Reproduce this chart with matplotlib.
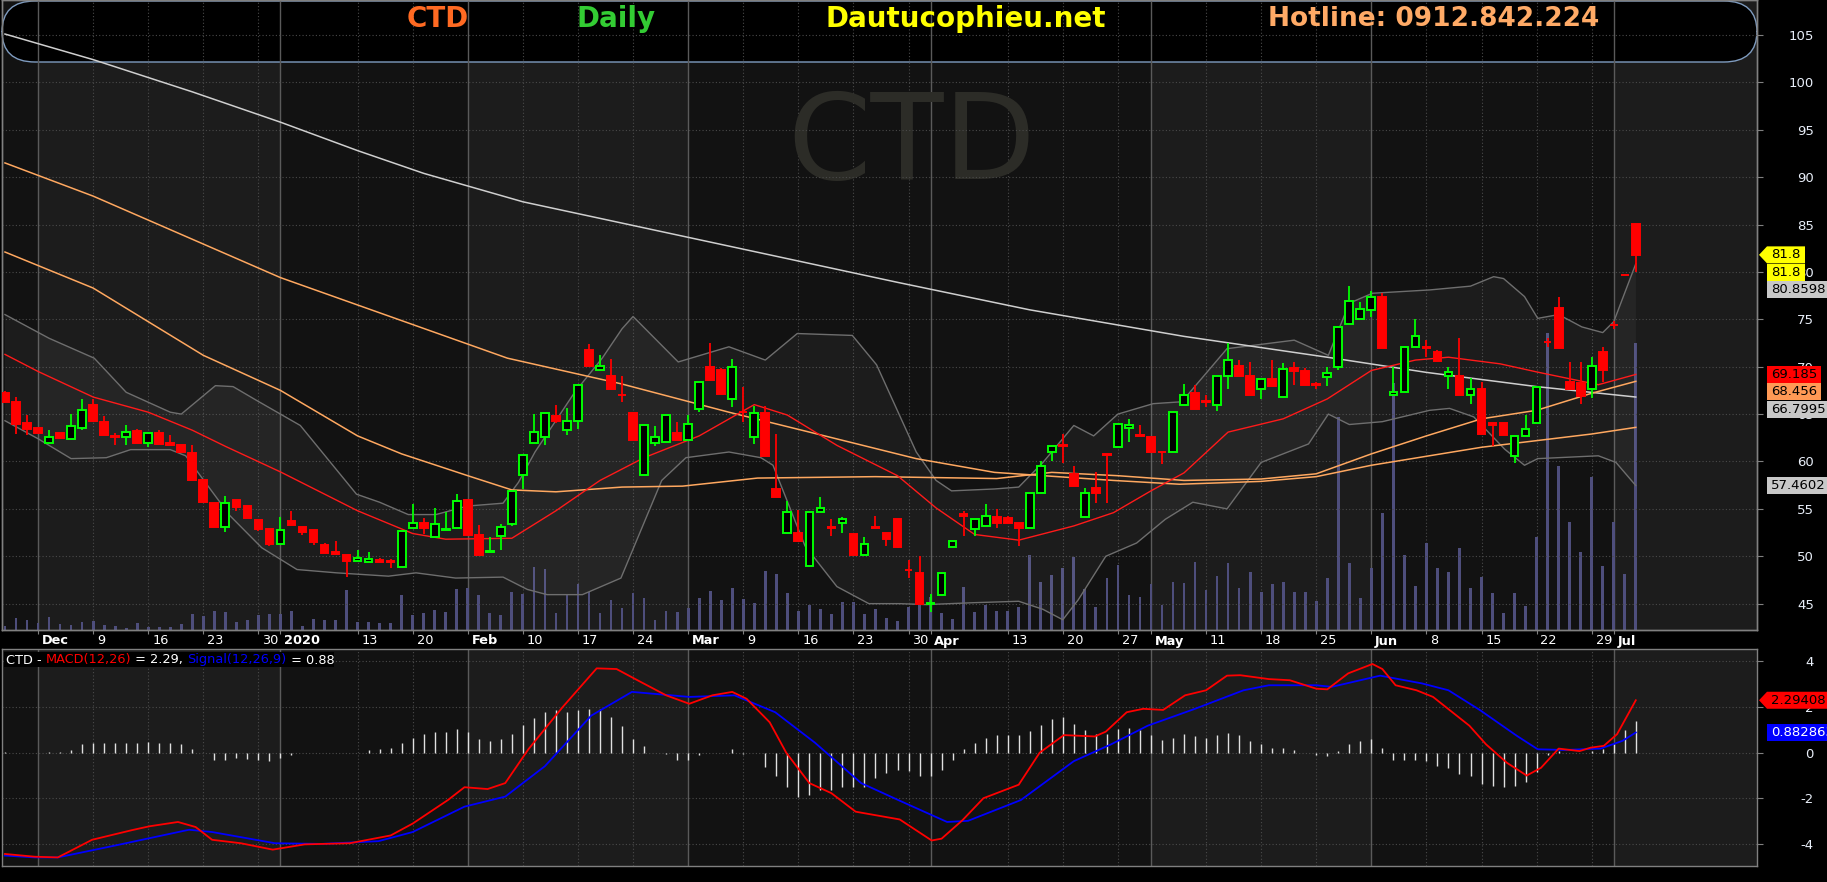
import numpy as np
import pandas as pd
import matplotlib
matplotlib.use("Agg")
import matplotlib.pyplot as plt
from matplotlib.patches import FancyBboxPatch, Polygon, Rectangle
from matplotlib.transforms import blended_transform_factory

# ---------------- data ----------------
holidays = ["2020-01-01", "2020-01-23", "2020-01-24", "2020-01-27", "2020-01-28",
            "2020-01-29", "2020-04-02", "2020-04-30", "2020-05-01"]
dates = pd.bdate_range("2019-11-27", "2020-07-03")
dates = dates[~dates.isin(pd.to_datetime(holidays))]

opens = [67.2, 66.3, 64.1, 63.55, 62.0, 63.0, 62.35, 63.5, 66.0, 64.2,
         62.65, 62.6, 63.2, 62.0, 63.0, 62.0, 61.75, 60.9, 58.0, 55.6,
         53.1, 55.9, 55.3, 53.8, 52.9, 51.3, 53.7, 53.05, 52.8, 51.15,
         50.45, 50.15, 49.5, 49.4, 49.6, 49.45, 48.9, 53.0, 53.55, 52.0,
         52.8, 53.0, 55.9, 52.25, 50.45, 52.1, 53.45, 58.6, 62.0, 62.55,
         64.8, 63.35, 64.25, 71.8, 69.6, 69.0, 67.05, 65.1, 58.55, 62.0,
         62.1, 63.0, 62.3, 65.5, 70.0, 69.6, 66.6, 65.25, 62.55, 65.1,
         57.1, 52.5, 52.5, 48.95, 54.7, 53.05, 53.55, 52.3, 50.1, 53.05,
         52.5, 53.9, 48.55, 48.2, 45.0, 45.9, 51.0, 54.5, 52.9, 53.2,
         54.1, 54.0, 53.55, 52.95, 56.7, 61.0, 61.7, 58.7, 54.1, 57.25,
         60.75, 61.5, 63.5, 62.75, 62.55, 61.05, 61.0, 66.0, 67.2, 66.35,
         66.0, 69.0, 70.05, 69.0, 67.6, 68.65, 66.8, 69.9, 69.55, 68.15,
         68.9, 70.0, 74.5, 75.0, 76.0, 77.4, 67.0, 67.3, 72.1, 72.05,
         71.55, 69.0, 69.0, 67.0, 67.6, 64.05, 64.1, 60.55, 62.7, 64.05,
         72.65, 76.15, 68.4, 68.3, 67.6, 71.55, 74.45, 79.7, 85.1]
highs = [67.4, 66.8, 64.9, 63.55, 63.3, 63.0, 65.0, 66.6, 66.6, 64.8,
         63.0, 63.9, 63.45, 63.0, 63.3, 62.8, 61.75, 61.75, 58.0, 55.6,
         56.4, 55.9, 55.3, 53.8, 52.9, 54.1, 54.75, 53.05, 52.8, 51.4,
         51.6, 50.15, 50.7, 50.4, 49.8, 49.7, 52.7, 55.5, 54.0, 55.1,
         54.7, 56.55, 55.9, 53.3, 52.0, 53.4, 56.85, 60.7, 65.0, 65.15,
         66.0, 65.6, 68.1, 72.4, 71.2, 70.8, 69.0, 65.1, 63.9, 63.7,
         64.9, 64.2, 64.9, 68.4, 72.5, 69.85, 70.85, 67.85, 65.9, 65.9,
         62.9, 55.85, 54.9, 54.7, 56.2, 53.9, 54.1, 52.3, 52.0, 54.25,
         52.5, 53.9, 49.6, 50.0, 46.0, 48.25, 51.6, 54.8, 53.9, 55.5,
         55.0, 54.3, 53.55, 56.7, 60.1, 61.65, 62.9, 59.5, 57.25, 58.85,
         60.75, 64.0, 64.5, 63.8, 62.55, 61.05, 65.2, 68.2, 68.1, 67.0,
         69.0, 72.45, 70.7, 70.5, 68.65, 70.7, 70.4, 70.5, 69.9, 68.4,
         70.0, 74.2, 78.5, 76.8, 78.0, 77.75, 70.0, 72.1, 75.0, 72.8,
         71.75, 70.0, 73.0, 68.8, 68.4, 64.05, 64.1, 62.7, 64.9, 67.85,
         73.0, 77.4, 70.5, 70.5, 71.0, 72.1, 74.8, 79.7, 85.1]
lows = [66.3, 62.9, 62.8, 63.0, 62.0, 62.5, 62.35, 63.3, 64.15, 62.8,
        61.75, 61.75, 62.0, 61.5, 61.85, 61.7, 61.05, 58.0, 55.7, 53.1,
        52.6, 54.8, 54.0, 52.65, 51.1, 51.3, 53.35, 52.2, 51.15, 50.35,
        50.25, 47.8, 49.5, 49.4, 49.4, 48.8, 48.9, 53.0, 52.3, 52.0,
        52.8, 53.0, 52.25, 50.1, 50.45, 50.65, 53.2, 57.1, 62.0, 61.75,
        64.05, 62.8, 63.4, 70.1, 69.6, 67.6, 66.25, 62.3, 58.55, 61.6,
        62.1, 62.25, 62.3, 65.25, 68.55, 67.1, 65.8, 64.15, 61.85, 60.55,
        56.3, 52.5, 51.6, 48.95, 54.7, 52.1, 52.5, 50.1, 50.1, 53.0,
        51.05, 50.9, 47.7, 45.0, 44.1, 45.9, 51.0, 52.1, 52.1, 53.2,
        53.0, 53.55, 51.1, 52.95, 56.7, 60.0, 59.8, 57.4, 54.1, 55.65,
        55.65, 61.5, 62.1, 62.7, 61.0, 59.7, 61.0, 66.0, 65.5, 65.7,
        65.3, 67.6, 69.0, 67.0, 66.55, 68.0, 66.8, 68.1, 68.1, 67.6,
        68.0, 69.7, 74.5, 75.0, 75.2, 72.0, 67.0, 67.3, 72.1, 71.0,
        70.6, 67.6, 67.0, 66.1, 62.85, 61.6, 62.75, 59.85, 62.7, 64.05,
        72.1, 72.0, 67.6, 66.1, 66.7, 68.4, 74.0, 79.65, 80.0]
closes = [66.3, 64.0, 63.4, 63.0, 62.6, 62.5, 63.7, 65.45, 64.3, 62.8,
          62.6, 63.1, 62.0, 63.0, 61.85, 61.7, 61.05, 58.0, 55.7, 53.1,
          55.6, 55.2, 54.0, 52.85, 51.25, 52.8, 53.35, 52.55, 51.5, 50.35,
          50.25, 49.5, 49.8, 49.7, 49.4, 49.4, 52.7, 53.55, 52.95, 53.45,
          52.9, 55.8, 52.25, 50.1, 50.6, 53.1, 56.85, 60.7, 63.1, 65.15,
          64.3, 64.25, 68.1, 70.1, 70.1, 67.6, 67.0, 62.3, 63.8, 62.55,
          64.9, 62.25, 64.0, 68.4, 68.55, 67.1, 70.0, 65.2, 65.1, 60.55,
          56.3, 54.7, 51.6, 54.7, 55.1, 53.0, 53.9, 50.1, 51.3, 53.0,
          51.85, 51.0, 48.5, 45.0, 45.05, 48.25, 51.6, 54.2, 53.9, 54.25,
          53.55, 53.55, 52.95, 56.7, 59.5, 61.65, 61.65, 57.4, 56.7, 56.7,
          60.7, 64.0, 63.8, 62.7, 61.0, 61.0, 65.2, 67.0, 65.5, 66.3,
          69.0, 70.75, 69.0, 67.0, 68.65, 68.0, 69.8, 69.5, 68.1, 68.1,
          69.35, 74.2, 76.9, 76.1, 77.4, 72.0, 67.3, 72.1, 73.25, 72.0,
          70.6, 69.4, 67.0, 67.6, 62.85, 63.8, 62.75, 62.7, 63.4, 67.85,
          72.6, 72.0, 67.6, 66.9, 70.1, 69.6, 74.4, 79.65, 81.8]
volume = [12, 35, 30, 20, 38, 18, 15, 23, 28, 15,
          12, 7, 20, 10, 8, 10, 17, 47, 43, 57,
          53, 23, 30, 45, 49, 49, 57, 12, 32, 30,
          30, 120, 25, 23, 22, 20, 105, 45, 50, 59,
          53, 123, 125, 105, 50, 45, 113, 107, 188, 183,
          50, 105, 137, 115, 50, 90, 65, 110, 97, 30,
          58, 53, 67, 97, 118, 90, 125, 92, 80, 178,
          167, 110, 57, 75, 62, 47, 85, 83, 47, 62,
          37, 27, 68, 75, 100, 52, 33, 130, 55, 75,
          57, 57, 70, 225, 145, 165, 187, 220, 123, 68,
          155, 195, 105, 100, 137, 75, 145, 140, 205, 120,
          163, 200, 125, 173, 113, 137, 145, 113, 113, 88,
          155, 640, 200, 97, 185, 350, 740, 225, 133, 260,
          187, 173, 247, 125, 158, 110, 50, 110, 73, 280,
          890, 493, 325, 233, 460, 193, 323, 167, 860]

# moving averages / bands (trading day 0 = 2 Dec 2019)
ma20_day = [-3, 0, 5, 10, 14, 17, 22, 29, 34, 37, 43, 47, 51, 55, 60, 65, 68, 72.5, 78,
            81.5, 85, 89, 94, 97.6, 101, 104, 108, 113, 117, 121, 125, 128, 132.7, 136, 141.6, 145]
ma20_val = [71.3, 69.5, 66.8, 65.2, 63.3, 61.6, 58.9, 54.8, 52.4, 51.8, 51.9, 54.8, 58.0, 60.4,
            62.7, 66.0, 64.9, 61.7, 58.5, 55.1, 52.3, 51.7, 53.2, 54.6, 56.9, 58.8, 63.1, 64.5,
            66.6, 69.6, 70.7, 71.0, 70.3, 69.45, 68.1, 69.185]
ma50_day = [-3, 5, 15, 22, 29, 33, 39, 43, 47, 53, 58.5, 65.3, 76, 87, 92, 98, 104, 111, 116,
            121, 126, 131, 136, 141, 145]
ma50_val = [82.1, 78.3, 71.2, 67.5, 62.7, 60.8, 58.5, 57.0, 56.8, 57.3, 57.4, 58.25, 58.4, 58.2,
            58.85, 58.5, 58.0, 58.15, 58.7, 60.8, 62.7, 64.5, 65.4, 67.2, 68.456]
ma100_day = [-3, 5, 22, 42.6, 52.9, 62.7, 70.7, 79.7, 86.8, 97.6, 103.6, 111, 116, 121, 126,
             131, 136, 141, 145]
ma100_val = [91.5, 88.0, 79.4, 70.9, 68.2, 65.2, 62.9, 60.3, 58.85, 58.0, 57.6, 57.9, 58.4, 59.6,
             60.55, 61.5, 62.2, 62.9, 63.6]
ma200_day = [-3, 5, 14, 22, 29, 35, 44, 54, 64, 78, 90, 104, 117, 126, 136, 145]
ma200_val = [105.1, 102.4, 99.0, 95.8, 92.8, 90.4, 87.4, 84.9, 82.4, 78.9, 76.0, 73.2, 71.0, 69.4,
             67.9, 66.7995]
bbu_day = [-3, 1, 5.1, 8, 12, 13, 16.1, 17.7, 19.9, 23.8, 28.9, 31, 33.6, 36.1, 39, 42.2, 43.6,
           45.1, 48.7, 51.2, 53, 54, 58.1, 62.7, 66, 68.9, 73.9, 76.1, 79.7, 81.5, 82.9, 86.8, 89,
           91.2, 94, 95.8, 98, 101.2, 103.8, 107.9, 114, 117.1, 119, 121.1, 126.3, 130, 132.1,
           133, 134.9, 136.1, 138, 140.1, 142, 143, 145]
bbu_val = [75.5, 73.0, 70.9, 67.3, 65.2, 65.0, 68.0, 67.9, 66.4, 63.8, 56.55, 55.7, 54.4, 54.4,
           55.3, 55.6, 57.8, 61.0, 67.3, 70.9, 74.0, 75.3, 70.5, 72.1, 70.7, 73.5, 73.3, 70.2, 61.0,
           58.0, 56.9, 57.1, 57.3, 59.9, 63.8, 62.7, 65.0, 66.1, 66.3, 71.9, 72.8, 71.2, 76.7, 77.75,
           78.1, 78.5, 79.5, 79.3, 77.4, 75.1, 75.5, 74.2, 73.6, 74.75, 80.8598]
bbl_day = [-3, 0, 3, 6.2, 8.4, 12, 13.4, 17.4, 20.3, 23.5, 27.1, 31.8, 34.3, 37.9, 42.2, 44.4,
           46.2, 49.4, 51.5, 52.9, 56.6, 58.8, 62.7, 65.6, 66.7, 69.6, 72.5, 75.4, 78.2, 80.6, 84.9,
           89, 91.2, 93, 94.4, 96.9, 99.7, 102.3, 104.8, 107.9, 111, 115.3, 117.1, 119, 122, 126.3,
           128.1, 130.3, 133.1, 134.9, 136.1, 141.6, 143.2, 145]
bbl_val = [64.3, 62.4, 60.3, 60.4, 61.25, 61.25, 60.6, 54.3, 50.9, 48.6, 48.25, 47.9, 48.25, 47.7,
           47.8, 46.5, 45.95, 45.95, 47.0, 47.7, 58.0, 60.4, 61.0, 60.4, 59.6, 51.1, 46.8, 45.0, 45.0,
           44.9, 45.1, 45.25, 44.4, 43.3, 45.4, 50.0, 51.4, 53.9, 55.7, 55.0, 59.9, 61.85, 65.0, 63.9,
           64.2, 65.4, 65.6, 64.7, 61.3, 59.6, 60.3, 60.6, 59.9, 57.4602]

macd_day = [-3, -0.3, 1.8, 4.9, 8.5, 10.1, 12.7, 14.3, 15.8, 18.4, 21.3, 24.2, 28.3, 32, 34, 37.2,
            38.7, 40.8, 42.4, 44.5, 47.6, 50.7, 52.5, 54.4, 57, 59.1, 61.2, 63, 64.3, 66.4, 67.9, 70,
            72, 74.2, 78.2, 81.1, 82, 83.9, 85.8, 89, 90.9, 93.1, 95.9, 96.9, 98.8, 100.3, 102.1,
            104.1, 106, 107.9, 109.1, 111.7, 113.6, 116, 117, 118.9, 121.1, 122, 123.2, 125.1, 126.6,
            129.9, 131.4, 133.3, 135.1, 136.4, 138, 139.9, 140.9, 142.1, 143.3, 145]
macd_val = [-4.43, -4.55, -4.58, -3.81, -3.39, -3.22, -3.03, -3.25, -3.81, -3.96, -4.24, -4.01,
            -3.96, -3.62, -3.10, -2.07, -1.51, -1.59, -1.33, 0.15, 1.99, 3.69, 3.66, 3.17, 2.51, 2.14,
            2.51, 2.66, 2.36, 1.33, 0.0, -1.33, -1.77, -2.58, -2.92, -3.84, -3.76, -2.95, -1.99,
            -1.40, 0.0, 0.77, 0.71, 0.92, 1.77, 1.92, 1.87, 2.51, 2.73, 3.37, 3.39, 3.22, 3.17, 2.80,
            2.77, 3.47, 3.88, 3.66, 2.95, 2.73, 2.44, 1.18, 0.37, -0.44, -1.0, -0.66, 0.18, 0.07,
            0.22, 0.30, 0.81, 2.29408]
signal_day = [-3, -0.3, 1.8, 7, 13.7, 15.8, 21.5, 25.7, 30.9, 34, 38.7, 42.4, 46, 50.2, 53.9, 59.1,
              63.2, 66.9, 70.5, 74.7, 78.2, 82.5, 84.4, 89.2, 94, 97.4, 100.7, 105, 109.4, 111.7,
              116, 117.4, 121.8, 125.6, 128, 130.9, 134.2, 136.1, 138.5, 141.8, 143.8, 145]
signal_val = [-4.5, -4.58, -4.58, -4.06, -3.37, -3.47, -3.96, -3.99, -3.87, -3.47, -2.36, -1.92,
              -0.59, 1.62, 2.66, 2.44, 2.51, 1.77, 0.44, -1.33, -2.1, -3.03, -2.98, -2.07, -0.37,
              0.37, 1.18, 1.92, 2.73, 2.95, 2.95, 2.88, 3.37, 3.03, 2.73, 1.85, 0.74, 0.15, 0.12,
              0.18, 0.52, 0.882863]
hist = [0.03, 0.0, 0.0, 0.0, 0.02, 0.05, 0.1, 0.37, 0.44, 0.44,
        0.41, 0.44, 0.41, 0.47, 0.44, 0.41, 0.37, 0.15, -0.03, -0.3,
        -0.3, -0.25, -0.27, -0.3, -0.37, -0.22, -0.12, 0.0, 0.0, 0.0,
        0.0, 0.0, 0.0, 0.1, 0.15, 0.19, 0.44, 0.66, 0.81, 0.89,
        0.92, 1.03, 0.89, 0.62, 0.52, 0.59, 0.81, 1.21, 1.52, 1.77,
        1.85, 1.77, 1.85, 1.92, 1.92, 1.55, 1.18, 0.62, 0.30, 0.0,
        -0.07, -0.3, -0.32, -0.12, -0.03, 0.0, 0.15, -0.07, -0.03, -0.62,
        -1.03, -1.51, -1.92, -1.85, -1.62, -1.62, -1.48, -1.48, -1.48, -1.11,
        -0.89, -0.74, -0.81, -1.0, -1.0, -0.74, -0.3, 0.15, 0.44, 0.66,
        0.77, 0.77, 0.77, 0.96, 1.21, 1.48, 1.55, 1.25, 1.0, 0.81,
        0.81, 1.03, 1.06, 0.99, 0.77, 0.55, 0.66, 0.81, 0.71, 0.66,
        0.77, 0.86, 0.77, 0.5, 0.37, 0.19, 0.19, 0.1, 0.0, -0.12,
        -0.15, 0.06, 0.37, 0.5, 0.59, 0.22, -0.3, -0.32, -0.32, -0.38,
        -0.56, -0.69, -0.92, -1.0, -1.36, -1.45, -1.48, -1.45, -1.30, -0.86,
        -0.12, 0.07, 0.0, 0.0, 0.07, 0.18, 0.37, 1.0, 1.40]

tick_dates = ["2019-12-02", "2019-12-09", "2019-12-16", "2019-12-23", "2019-12-30", "2020-01-02",
              "2020-01-13", "2020-01-20", "2020-02-03", "2020-02-10", "2020-02-17", "2020-02-24",
              "2020-03-02", "2020-03-09", "2020-03-16", "2020-03-23", "2020-03-30", "2020-04-01",
              "2020-04-13", "2020-04-20", "2020-04-27", "2020-05-04", "2020-05-11", "2020-05-18",
              "2020-05-25", "2020-06-01", "2020-06-08", "2020-06-15", "2020-06-22", "2020-06-29",
              "2020-07-01"]
tick_labels = ["Dec", "9", "16", "23", "30", "2020", "13", "20", "Feb", "10", "17", "24", "Mar",
               "9", "16", "23", "30", "Apr", "13", "20", "27", "May", "11", "18", "25", "Jun", "8",
               "15", "22", "29", "Jul"]
light_months = ["2019-12", "2020-02", "2020-05", "2020-07"]

# ---------------- layout ----------------
W, H = 1827, 882
fig = plt.figure(figsize=(W / 100, H / 100), dpi=100, facecolor="black")


def px_axes(x0, y0, x1, y1, **kw):
    return fig.add_axes([x0 / W, 1 - y1 / H, (x1 - x0) / W, (y1 - y0) / H], **kw)


bg = px_axes(2, 0, 1757, 630)
ax = px_axes(2, 0, 1757, 630, sharex=bg)
mx = px_axes(2, 649, 1757, 866, sharex=bg)
ax.patch.set_visible(False)

offset = dates.get_loc(pd.Timestamp("2019-12-02"))
xs = np.arange(len(dates)) - offset
tick_x = [dates.get_loc(pd.Timestamp(d)) - offset for d in tick_dates]
month_tick = [not lab.isdigit() or lab == "2020" for lab in tick_labels]

bg.set_xlim(-3.27, 156.0)
ax.set_ylim(42.22, 108.69)
bg.set_ylim(0, 1890)
mx.set_ylim(-4.956, 4.536)

# month shading
per = dates.to_period("M").astype(str)
starts = [i for i in range(len(per)) if i == 0 or per[i] != per[i - 1]]
for k, s in enumerate(starts):
    left = -10 if k == 0 else xs[s]
    right = xs[starts[k + 1]] if k + 1 < len(starts) else 200
    colr = "#1c1c1c" if per[s] in light_months else "#121212"
    bg.axvspan(left, right, color=colr, lw=0, zorder=0)
    mx.axvspan(left, right, color=colr, lw=0, zorder=0)
bg.set_facecolor("#121212")

# grid
for a, levels in ((ax, range(45, 110, 5)), (mx, range(-4, 5, 2))):
    for v in levels:
        a.axhline(v, color="#4a4a4a", lw=0.8, ls=(0, (1, 2)), zorder=1)
for a in (bg, mx):
    for tx, is_m in zip(tick_x, month_tick):
        if is_m:
            a.axvline(tx, color="#5a5a5a", lw=1.0, zorder=1)
        else:
            a.axvline(tx, color="#4a4a4a", lw=0.8, ls=(0, (1, 2)), zorder=1)

# header banner
r = 33 / W
banner = FancyBboxPatch((2 / W, 1 - 62 / H), 1755 / W, 61 / H,
                        boxstyle=f"round,pad=0,rounding_size={r}",
                        mutation_aspect=31 * W / (33 * H),
                        transform=fig.transFigure, facecolor="black",
                        edgecolor="#7f9cc0", lw=1.0, zorder=0.5, clip_on=False)
bg.add_patch(banner)

# volume
bg.bar(xs, volume, width=0.25, color="#4e4e7c", zorder=2)

# watermark
ax.text(912 / W, 1 - 146 / H, "CTD", transform=fig.transFigure, fontsize=86,
        color="#2c2c27", ha="center", va="center", zorder=0.6)

# Bollinger fill and lines
ax.fill(np.r_[bbu_day, bbl_day[::-1]], np.r_[bbu_val, bbl_val[::-1]],
        color="white", alpha=0.045, lw=0, zorder=1.5)
ax.plot(bbu_day, bbu_val, color="#6e6e6e", lw=1.0, zorder=2)
ax.plot(bbl_day, bbl_val, color="#6e6e6e", lw=1.0, zorder=2)
ax.plot(ma200_day, ma200_val, color="#cfcfcf", lw=1.1, zorder=3)
ax.plot(ma100_day, ma100_val, color="#ffa860", lw=1.1, zorder=3)
ax.plot(ma50_day, ma50_val, color="#ffa860", lw=1.1, zorder=3)
ax.plot(ma20_day, ma20_val, color="#ff1a1a", lw=1.0, zorder=3)

# candles
o, h, l, c = map(np.array, (opens, highs, lows, closes))
up = c > o
edge = np.where(up, "#00ff00", "#ff0000")
face = np.where(up, "black", "#ff0000")
ax.vlines(xs, l, h, colors=edge, lw=1.3, zorder=4)
ax.bar(xs, np.abs(c - o), bottom=np.minimum(o, c), width=0.7, color=face,
       edgecolor=edge, linewidth=1.4, zorder=5)

# MACD panel
mx.vlines(xs, 0, hist, colors="#e0e0e0", lw=1.0, zorder=2)
mx.plot(signal_day, signal_val, color="#0000ff", lw=1.3, zorder=3)
mx.plot(macd_day, macd_val, color="#ff0000", lw=1.3, zorder=4)

# axes cosmetics
for a in (bg, ax, mx):
    for s in a.spines.values():
        s.set_color("#808080")
        s.set_linewidth(1.0)
bg.set_yticks([])
bg.tick_params(axis="x", which="both", length=0, labelbottom=False)
for a, ticks in ((ax, range(45, 110, 5)), (mx, range(-4, 5, 2))):
    a.yaxis.tick_right()
    a.set_yticks(list(ticks))
    a.set_yticklabels([str(t) for t in ticks])
    a.tick_params(axis="y", direction="out", length=4, color="#808080",
                  labelcolor="#e8eef8", labelsize=9.5, pad=37)
    for lab in a.get_yticklabels():
        lab.set_horizontalalignment("right")
ax.set_xticks(tick_x)
ax.tick_params(axis="x", direction="out", length=3, color="#808080", labelbottom=False)
mx.tick_params(axis="x", length=0, labelbottom=False)

# date labels
tr = blended_transform_factory(ax.transData, ax.transAxes)
for tx, lab, is_m in zip(tick_x, tick_labels, month_tick):
    ax.text(tx + 0.35, -11 / 630, lab, transform=tr, color="white", fontsize=9.3,
            fontweight="bold" if is_m else "normal", ha="left", va="center",
            family=["Liberation Sans Narrow", "DejaVu Sans"])

# header texts
for txt, xc, colr, fs in (("CTD", 438, "#ff6a22", 20), ("Daily", 616, "#33cc33", 20),
                          ("Dautucophieu.net", 966, "#ffff00", 20),
                          ("Hotline: 0912.842.224", 1434, "#ffaa66", 19)):
    fig.text(xc / W, 1 - 19 / H, txt, color=colr, fontsize=fs, fontweight="bold",
             ha="center", va="center")

# MACD legend
fig.add_artist(Rectangle((4 / W, 1 - 667 / H), 330 / W, 15 / H, transform=fig.transFigure,
                         facecolor="black", edgecolor="none", zorder=4))
renderer = fig.canvas.get_renderer()
xpos = 6
for txt, colr in (("CTD - ", "white"), ("MACD(12,26)", "#ff0000"), (" = 2.29, ", "white"),
                  ("Signal(12,26,9)", "#0000ff"), (" = 0.88", "white")):
    t = fig.text(xpos / W, 1 - 660 / H, txt, color=colr, fontsize=9.3, ha="left",
                 va="center", zorder=5, family=["Liberation Sans Narrow", "DejaVu Sans"])
    xpos += t.get_window_extent(renderer).width


# value tags on the right
def tag(ypx, text, bgc, fg="black", x1=1827, arrow=False):
    hh = 8.5
    pts = [(1767, ypx - hh), (x1, ypx - hh), (x1, ypx + hh), (1767, ypx + hh)]
    if arrow:
        pts.append((1759, ypx))
    fig.add_artist(Polygon([(x / W, 1 - y / H) for x, y in pts], closed=True,
                           transform=fig.transFigure, facecolor=bgc, edgecolor="none",
                           zorder=6))
    fig.text(1771 / W, 1 - ypx / H, text, color=fg, fontsize=9.5, ha="left", va="center",
             zorder=7)


def ypix(a, v):
    return H - a.transData.transform((0, v))[1]


price_tags = [(closes[-1], "81.8", "#ffff00", 1805, True),
              (closes[-1], "81.8", "#ffff00", 1805, False),
              (bbu_val[-1], "80.8598", "#c8c8c8", 1827, False),
              (ma20_val[-1], "69.185", "#ff0000", 1821, False),
              (ma50_val[-1], "68.456", "#ff9955", 1821, False),
              (ma200_val[-1], "66.7995", "#c8c8c8", 1827, False),
              (bbl_val[-1], "57.4602", "#c8c8c8", 1827, False)]
prev = -100
for v, txt, colr, x1, arr in price_tags:
    y = max(ypix(ax, v), prev + 17.5)
    tag(y, txt, colr, x1=x1, arrow=arr)
    prev = y
tag(ypix(mx, macd_val[-1]), "2.29408", "#ff0000", arrow=True)
tag(ypix(mx, signal_val[-1]), "0.882863", "#0000ff", fg="white")

fig.savefig("out.png", dpi=100, facecolor="black")
